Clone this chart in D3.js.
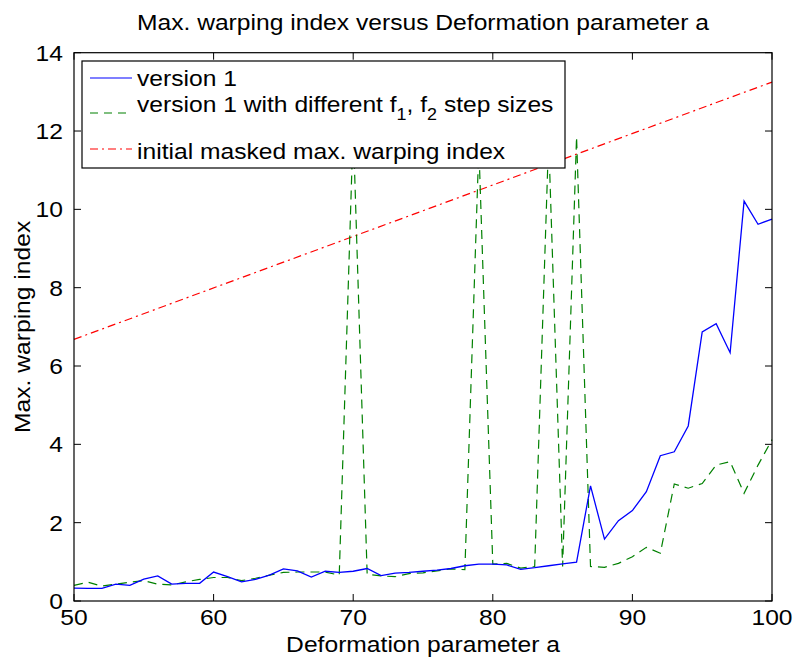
<!DOCTYPE html>
<html>
<head>
<meta charset="utf-8">
<script src="https://cdn.jsdelivr.net/npm/d3@7"></script>
<style>
  body { margin: 0; background: #fff; }
  text { font-family: "Liberation Sans", Arial, sans-serif; fill: #000; }
</style>
</head>
<body>
<div id="chart"></div>
<script>
// deformation parameter a
const aValues = [50, 51, 52, 53, 54, 55, 56, 57, 58, 59, 60, 61, 62, 63, 64, 65, 66, 67, 68, 69,
    70, 71, 72, 73, 74, 75, 76, 77, 78, 79, 80, 81, 82, 83, 84, 85, 86, 87, 88, 89,
    90, 91, 92, 93, 94, 95, 96, 97, 98, 99, 100];

// version 1
const version1 = [0.33, 0.32, 0.32, 0.43, 0.40, 0.56, 0.64, 0.43, 0.45, 0.45, 0.74, 0.62, 0.49, 0.55, 0.66, 0.82, 0.77, 0.61, 0.76, 0.73,
    0.76, 0.83, 0.65, 0.71, 0.73, 0.76, 0.79, 0.83, 0.90, 0.94, 0.94, 0.92, 0.81, 0.85, 0.90, 0.95, 0.99, 2.94, 1.58, 2.05,
    2.31, 2.79, 3.71, 3.81, 4.47, 6.87, 7.08, 6.34, 10.21, 9.62, 9.75];

// version 1 with different f1, f2 step sizes
const version1Steps = [0.40, 0.48, 0.38, 0.43, 0.48, 0.52, 0.43, 0.41, 0.49, 0.55, 0.60, 0.60, 0.52, 0.58, 0.66, 0.73, 0.74, 0.74, 0.74, 0.66,
    12.1, 0.68, 0.64, 0.62, 0.70, 0.72, 0.77, 0.82, 0.80, 11.6, 0.94, 0.96, 0.84, 0.88, 11.8, 0.88, 11.85, 0.88, 0.86, 0.96,
    1.13, 1.37, 1.22, 2.99, 2.88, 3.00, 3.47, 3.56, 2.75, 3.47, 4.12];

// initial masked max. warping index (straight line, end points)
const maskedA = [50, 100];
const maskedIndex = [6.68, 13.25];

const xTicks = [50, 60, 70, 80, 90, 100];
const yTicks = [0, 2, 4, 6, 8, 10, 12, 14];

const legendLabels = ['version 1', 'version 1 with different f', 'initial masked max. warping index'];

const W = 795, H = 663;
const margin = { top: 52.7, right: 23, bottom: 62, left: 74 };
const width = W - margin.left - margin.right;
const height = H - margin.top - margin.bottom;
const fontSize = 22;
const stretch = 1.12; // reference glyphs are wider than Liberation Sans

const svg = d3.select('#chart').append('svg')
    .attr('width', W)
    .attr('height', H);

// text helper: positioned with a transform so it can be widened a bit
const addText = (parent, px, py, str, anchor, rot) => parent.append('text')
    .attr('transform', 'translate(' + px + ',' + py + ')' + (rot ? 'rotate(' + rot + ')' : '') + 'scale(' + stretch + ',1)')
    .attr('text-anchor', anchor || 'start')
    .style('font-size', fontSize + 'px')
    .text(str);

const g = svg.append('g')
    .attr('transform', 'translate(' + margin.left + ',' + margin.top + ')');

const x = d3.scaleLinear().domain([50, 100]).range([0, width]);
const y = d3.scaleLinear().domain([0, 14]).range([height, 0]);

// Lines
const lineGen = (xs, ys) => d3.line()
    .x((d, i) => x(xs[i]))
    .y(d => y(d))(ys);

g.append('path')
    .attr('d', lineGen(maskedA, maskedIndex))
    .attr('fill', 'none')
    .attr('stroke', '#ff0000')
    .attr('stroke-width', 1.2)
    .attr('stroke-dasharray', '8,4,2,4');

g.append('path')
    .attr('d', lineGen(aValues, version1Steps))
    .attr('fill', 'none')
    .attr('stroke', '#008000')
    .attr('stroke-width', 1.2)
    .attr('stroke-dasharray', '9,6');

g.append('path')
    .attr('d', lineGen(aValues, version1))
    .attr('fill', 'none')
    .attr('stroke', '#0000ff')
    .attr('stroke-width', 1.3);

// Axes box with inward ticks (all four sides)
const tickLen = 7;
const axisG = g.append('g').attr('class', 'axes');
axisG.append('rect')
    .attr('width', width).attr('height', height)
    .attr('fill', 'none').attr('stroke', '#000').attr('stroke-width', 1.2);

xTicks.forEach(t => {
    axisG.append('line')
        .attr('x1', x(t)).attr('x2', x(t))
        .attr('y1', height).attr('y2', height - tickLen)
        .attr('stroke', '#000');
    axisG.append('line')
        .attr('x1', x(t)).attr('x2', x(t))
        .attr('y1', 0).attr('y2', tickLen)
        .attr('stroke', '#000');
    addText(axisG, x(t), height + 24, t, 'middle');
});

yTicks.forEach(t => {
    axisG.append('line')
        .attr('x1', 0).attr('x2', tickLen)
        .attr('y1', y(t)).attr('y2', y(t))
        .attr('stroke', '#000');
    axisG.append('line')
        .attr('x1', width).attr('x2', width - tickLen)
        .attr('y1', y(t)).attr('y2', y(t))
        .attr('stroke', '#000');
    addText(axisG, -11, y(t) + 8, t, 'end');
});

// Titles
addText(svg, margin.left + width / 2, 30, 'Max. warping index versus Deformation parameter a', 'middle');
addText(svg, margin.left + width / 2, H - 11, 'Deformation parameter a', 'middle');
addText(svg, 30, margin.top + height / 2, 'Max. warping index', 'middle', -90);

// Legend
const lg = svg.append('g').attr('transform', 'translate(82,61)');
lg.append('rect')
    .attr('width', 483).attr('height', 107)
    .attr('fill', '#fff').attr('stroke', '#000').attr('stroke-width', 1.2);

const legendItems = [
    { color: '#0000ff', dash: null, ly: 17, ty: 25 },
    { color: '#008000', dash: '8,6', ly: 52, ty: 51 },
    { color: '#ff0000', dash: '8,4,2,4', ly: 88, ty: 98 }
];

legendItems.forEach((d, i) => {
    lg.append('line')
        .attr('x1', 8).attr('x2', 50)
        .attr('y1', d.ly).attr('y2', d.ly)
        .attr('stroke', d.color)
        .attr('stroke-width', 1.2)
        .attr('stroke-dasharray', d.dash);
    const t = addText(lg, 55, d.ty, legendLabels[i], 'start');
    if (i === 1) {
        t.append('tspan').attr('dy', 8).style('font-size', '16px').text('1');
        t.append('tspan').attr('dy', -8).text(', f');
        t.append('tspan').attr('dy', 8).style('font-size', '16px').text('2');
        t.append('tspan').attr('dy', -8).text(' step sizes');
    }
});
</script>
</body>
</html>
